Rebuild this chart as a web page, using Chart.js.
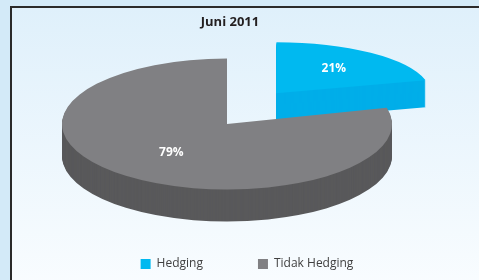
<!DOCTYPE html>
<html>
<head>
<meta charset="utf-8">
<script src="https://cdn.jsdelivr.net/npm/chart.js@4"></script>
<style>
  html, body { margin: 0; padding: 0; }
  body { width: 479px; height: 280px; background: #d3eaf8; position: relative; overflow: hidden; }
  #frame {
    position: absolute; left: 10px; top: 6px; width: 480px; height: 290px;
    border-left: 2px solid #2a2a2a; border-top: 2px solid #2a2a2a;
    background: linear-gradient(#dff0fb, #fafdff);
  }
  #myChart { position: absolute; left: 0; top: 0; }
</style>
</head>
<body>
<div id="frame"></div>
<canvas id="myChart" width="479" height="280"></canvas>
<script>
var labels = ['Hedging', 'Tidak Hedging'];
var shares = [21, 79];
var topColors = ['#00b9f0', '#808083'];
var sideColors = ['#00aee9', '#59595b'];

// fake 3d: squash each slice and stack darker copies underneath.
// the pulled-out slice sits further back, so it gets a flatter tilt
var view = { x: 227, y: 127 };
var tilts = [0.33, 0.397];
var lifts = [13, 3];
var depths = [27, 32];
var radii = [152, 165];
var labelFrac = [0.62, 0.55];

function drawInView(ctx, arc, i, dy) {
    ctx.save();
    ctx.translate(view.x, view.y - lifts[i] + dy);
    ctx.scale(1, tilts[i]);
    ctx.translate(-arc.x, -arc.y);
    arc.draw(ctx);
    ctx.restore();
}

var pie3d = {
    id: 'pie3d',
    afterUpdate: function(chart) {
        chart.getDatasetMeta(0).data.forEach(function(arc, i) {
            arc.outerRadius = radii[i];
        });
    },
    afterLayout: function(chart) {
        chart.legend.left += 17;
        chart.legend.right += 17;
    },
    beforeDatasetsDraw: function(chart) {
        var ctx = chart.ctx;
        var arcs = chart.getDatasetMeta(0).data;
        arcs.forEach(function(arc, i) {
            var opts = arc.options;
            arc.options = Object.assign({}, opts, { backgroundColor: sideColors[i] });
            for (var d = depths[i]; d > 0; d--) drawInView(ctx, arc, i, d);
            arc.options = opts;
            drawInView(ctx, arc, i, 0);
        });

        var total = shares.reduce(function(a, b) { return a + b; }, 0);
        ctx.save();
        ctx.fillStyle = '#ffffff';
        ctx.font = 'bold 12px "Open Sans"';
        ctx.textAlign = 'center';
        ctx.textBaseline = 'middle';
        arcs.forEach(function(arc, i) {
            var mid = (arc.startAngle + arc.endAngle) / 2;
            var r = (arc.options.offset || 0) / 4 + arc.outerRadius * labelFrac[i];
            var x = view.x + Math.cos(mid) * r;
            var y = view.y - lifts[i] + Math.sin(mid) * r * tilts[i];
            ctx.fillText(Math.round(shares[i] / total * 100) + '%', x, y);
        });
        ctx.restore();
        return false;
    }
};

var ctx = document.getElementById('myChart').getContext('2d');
var myChart = new Chart(ctx, {
    type: 'pie',
    data: {
        labels: labels,
        datasets: [{
            data: shares,
            backgroundColor: topColors,
            borderWidth: 0,
            offset: [320, 0]
        }]
    },
    options: {
        responsive: false,
        animation: false,
        events: [],
        layout: {
            padding: { left: 0, right: 19 }
        },
        plugins: {
            title: {
                display: true,
                text: 'Juni 2011',
                color: '#231f20',
                font: { family: 'Open Sans', size: 13, weight: 'bold' },
                padding: { top: 14, bottom: 6 }
            },
            legend: {
                position: 'bottom',
                labels: {
                    boxWidth: 10,
                    boxHeight: 10,
                    padding: 55,
                    color: '#404040',
                    font: { family: 'Open Sans', size: 12 }
                }
            },
            tooltip: { enabled: false }
        }
    },
    plugins: [pie3d]
});
</script>
</body>
</html>
